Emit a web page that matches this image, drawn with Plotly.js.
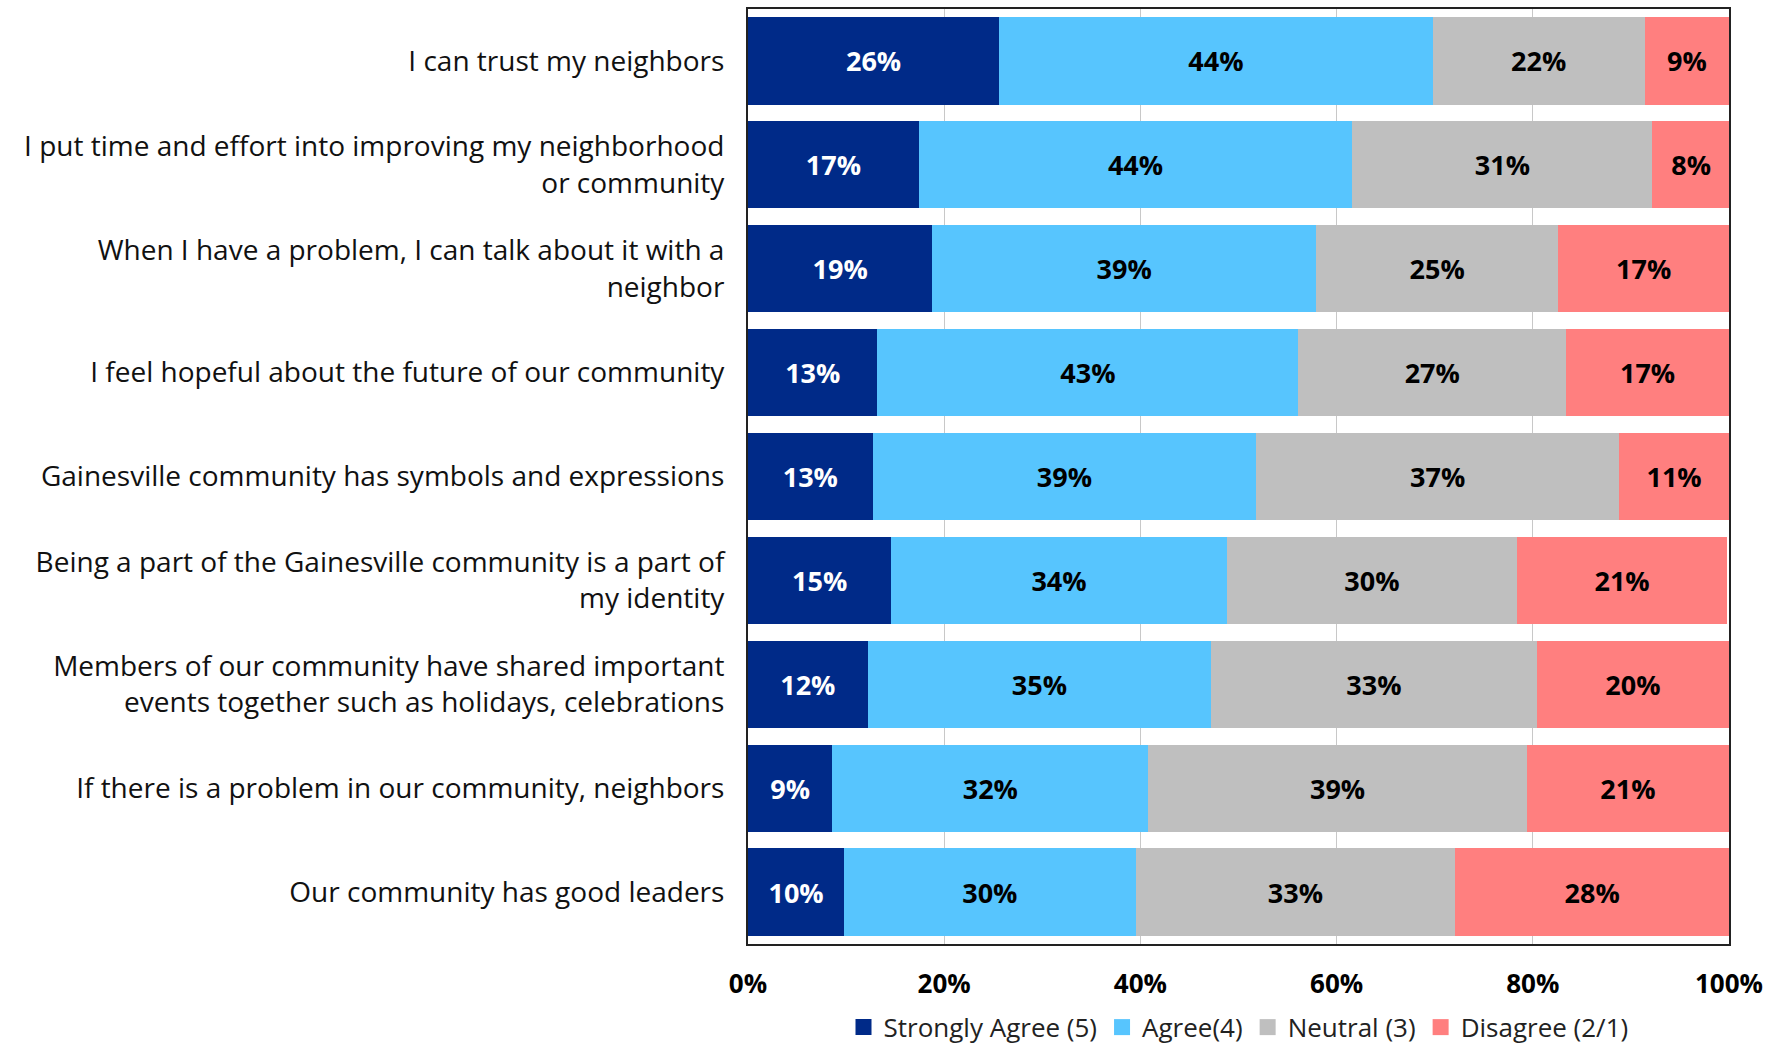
<!DOCTYPE html>
<html>
<head>
<meta charset="utf-8">
<script src="https://cdn.plot.ly/plotly-3.0.1.min.js"></script>
<style>html,body{margin:0;padding:0;background:#fff;}#chart{width:1783px;height:1050px;}</style>
</head>
<body>
<div id="chart"></div>
<script>
const categories = [
  "I can trust my neighbors",
  "I put time and effort into improving my neighborhood<br>or community",
  "When I have a problem, I can talk about it with a<br>neighbor",
  "I feel hopeful about the future of our community",
  "Gainesville community has symbols and expressions",
  "Being a part of the Gainesville community is a part of<br>my identity",
  "Members of our community have shared important<br>events together such as holidays, celebrations",
  "If there is a problem in our community, neighbors",
  "Our community has good leaders"
];
const stronglyAgree = [25.6, 17.4, 18.8, 13.2, 12.7, 14.6, 12.2, 8.6, 9.8];
const agree         = [44.2, 44.2, 39.1, 42.9, 39.1, 34.2, 35.0, 32.2, 29.7];
const neutral       = [21.6, 30.6, 24.7, 27.3, 37.0, 29.6, 33.2, 38.6, 32.6];
const disagree      = [8.6, 7.9, 17.4, 16.6, 11.2, 21.4, 19.6, 20.6, 27.9];
const seriesNames = ["Strongly Agree (5)", "Agree(4)", "Neutral (3)", "Disagree (2/1)"];
const seriesColors = ["#002A88", "#57C5FE", "#BFBFBF", "#FF7F7F"];
const labelColors = ["#FFFFFF", "#000000", "#000000", "#000000"];
const tickVals = [0, 20, 40, 60, 80, 100];
const tickText = ["0%", "20%", "40%", "60%", "80%", "100%"];

const FONT = '"Open Sans", Calibri, Carlito, sans-serif';
const seriesData = [stronglyAgree, agree, neutral, disagree];
const traces = seriesData.map((vals, i) => ({
  type: 'bar',
  orientation: 'h',
  name: seriesNames[i],
  legendgroup: 'g' + i,
  showlegend: false,
  y: categories,
  x: vals,
  marker: {color: seriesColors[i], line: {width: 0}},
  texttemplate: '%{x:.0f}%',
  textposition: 'inside',
  insidetextanchor: 'middle',
  textangle: 0,
  constraintext: 'none',
  insidetextfont: {family: FONT, size: 27, color: labelColors[i], weight: 'bold'},
  hoverinfo: 'x+name'
}));
// legend entries (square swatches) for each series
seriesNames.forEach((n, i) => {
  traces.push({
    type: 'scatter',
    mode: 'markers',
    name: n,
    legendgroup: 'g' + i,
    x: [null], y: [null],
    marker: {symbol: 'square', size: 16, color: seriesColors[i]},
    hoverinfo: 'skip'
  });
});

const layout = {
  width: 1783,
  height: 1050,
  barmode: 'stack',
  bargap: 0.16,
  paper_bgcolor: '#fff',
  plot_bgcolor: '#fff',
  margin: {l: 748, r: 54, t: 9, b: 106, autoexpand: false},
  font: {family: FONT, size: 27, color: '#000'},
  showlegend: true,
  legend: {
    orientation: 'h',
    x: 0.5, xanchor: 'center',
    y: -0.089, yanchor: 'middle',
    traceorder: 'normal',
    font: {family: FONT, size: 26, color: '#222'},
    itemwidth: 30,
    tracegroupgap: 0
  },
  xaxis: {
    range: [0, 100],
    tickvals: tickVals,
    ticktext: tickText,
    tickfont: {family: FONT, size: 26, color: '#000', weight: 'bold'},
    showgrid: true,
    gridcolor: '#C8C8C8',
    gridwidth: 1,
    zeroline: false,
    showline: true,
    linecolor: '#222',
    linewidth: 2,
    mirror: true,
    ticks: '',
    ticklabelstandoff: 16,
    fixedrange: true
  },
  yaxis: {
    autorange: 'reversed',
    tickfont: {family: FONT, size: 28, color: '#111'},
    showline: true,
    linecolor: '#222',
    linewidth: 2,
    mirror: true,
    ticks: '',
    ticklabelstandoff: 16,
    showgrid: false,
    fixedrange: true
  }
};

Plotly.newPlot('chart', traces, layout, {displayModeBar: false, staticPlot: true});
</script>
</body>
</html>
